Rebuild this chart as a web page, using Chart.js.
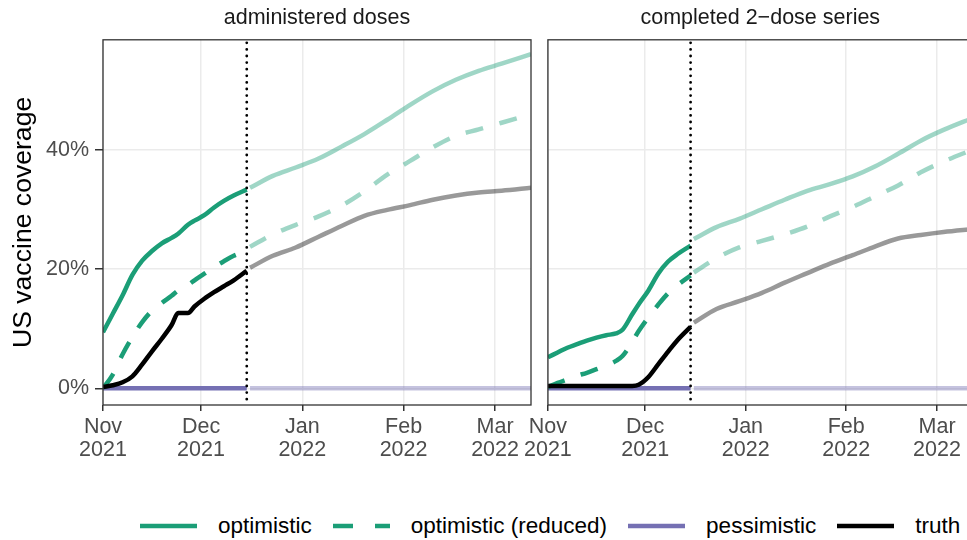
<!DOCTYPE html>
<html>
<head>
<meta charset="utf-8">
<script src="https://cdn.jsdelivr.net/npm/chart.js@4.4.1/dist/chart.umd.min.js"></script>
<style>
  html, body { margin: 0; padding: 0; background: #fff; overflow: hidden; }
  body { width: 967px; height: 540px; position: relative; font-family: "Liberation Sans", Arial, sans-serif; }
  #left { position: absolute; left: 0; top: 0; }
  #right { position: absolute; left: 520px; top: 0; }
  .legend { position: absolute; left: 140px; top: 513px; height: 26px; line-height: 26px;
            display: flex; align-items: center; font-size: 22.5px; color: #000; white-space: nowrap; }
  .legend svg { display: block; margin-right: 21px; }
  .legend span { margin-right: 21px; }
</style>
</head>
<body>
<canvas id="left" width="545" height="470"></canvas>
<canvas id="right" width="470" height="470"></canvas>
<div class="legend" id="legend"></div>
<script>
// x values are days since 1 Nov 2021
const obsDays  = [0, 3, 6, 9, 12, 15, 18, 21, 23, 26, 28, 31, 34, 37, 40, 44];
const projDays = [45, 52, 59, 66, 73, 80, 87, 94, 101, 108, 115, 122, 131];
const cutoffDay = 44;   // 15 Dec 2021, last observed day (dotted line)

const monthTickDays   = [0, 30, 61, 92, 120];
const monthTickLabels = [['Nov', '2021'], ['Dec', '2021'], ['Jan', '2022'], ['Feb', '2022'], ['Mar', '2022']];
const yTickValues     = [0, 20, 40];

const panelTitles  = ['administered doses', 'completed 2\u2212dose series'];
const legendLabels = ['optimistic', 'optimistic (reduced)', 'pessimistic', 'truth'];

// administered doses (% coverage)
const adminOptObs    = [9.4, 12.5, 15.6, 19.0, 21.4, 23.0, 24.3, 25.2, 25.9, 27.4, 28.1, 29.0, 30.3, 31.4, 32.3, 33.3];
const adminOptProj   = [33.6, 35.6, 37.0, 38.5, 40.5, 42.6, 45.0, 47.5, 49.8, 51.7, 53.2, 54.4, 56.0];
const adminRedObs    = [0, 2.3, 5.7, 8.6, 11.1, 13.0, 14.3, 15.5, 16.4, 17.3, 18.1, 19.2, 20.3, 21.3, 22.2, 23.0];
const adminRedProj   = [23.7, 25.8, 27.4, 28.8, 30.6, 33.0, 35.8, 38.1, 40.4, 42.3, 43.4, 44.5, 45.9];
const adminPessObs   = [0, 0, 0, 0, 0, 0, 0, 0, 0, 0, 0, 0, 0, 0, 0, 0];
const adminPessProj  = [0, 0, 0, 0, 0, 0, 0, 0, 0, 0, 0, 0, 0];
const adminTruthObs  = [0.2, 0.5, 1.0, 2.0, 4.0, 6.2, 8.3, 10.6, 12.6, 12.6, 13.7, 15.0, 16.1, 17.1, 18.1, 19.7];
const adminTruthProj = [20.2, 22.2, 23.6, 25.4, 27.2, 28.9, 29.9, 30.7, 31.6, 32.3, 32.8, 33.1, 33.6];

// completed 2-dose series (% coverage)
const doneOptObs    = [5.2, 6.0, 6.8, 7.4, 8.0, 8.5, 8.9, 9.2, 9.8, 12.4, 14.1, 16.4, 19.2, 21.2, 22.5, 23.9];
const doneOptProj   = [25.0, 27.0, 28.4, 30.0, 31.6, 33.1, 34.2, 35.5, 37.2, 39.3, 41.5, 43.3, 45.3];
const doneRedObs    = [0.2, 0.9, 1.5, 2.1, 2.6, 3.2, 3.8, 4.6, 5.4, 7.8, 9.6, 11.9, 14.0, 15.9, 17.3, 18.9];
const doneRedProj   = [19.4, 21.8, 23.6, 24.7, 25.8, 27.1, 28.8, 30.4, 32.2, 34.0, 36.2, 38.0, 40.0];
const donePessObs   = [0, 0, 0, 0, 0, 0, 0, 0, 0, 0, 0, 0, 0, 0, 0, 0];
const donePessProj  = [0, 0, 0, 0, 0, 0, 0, 0, 0, 0, 0, 0, 0];
const doneTruthObs  = [0.4, 0.4, 0.4, 0.4, 0.4, 0.4, 0.4, 0.4, 0.4, 0.4, 0.6, 1.9, 4.0, 6.1, 8.1, 10.3];
const doneTruthProj = [11.0, 13.3, 14.6, 16.0, 17.7, 19.3, 20.9, 22.3, 23.8, 25.1, 25.7, 26.2, 26.7];

const FONT = '"Liberation Sans", Arial, sans-serif';
const GREEN = '#1B9E77', GREEN_LIGHT = 'rgba(27,158,119,0.42)';
const PURPLE = '#7570B3', PURPLE_LIGHT = 'rgba(117,112,179,0.42)';
const BLACK = '#000000', GRAY = 'rgba(0,0,0,0.4)';
const DASH = [18, 17];
const LW = 4.5;

function pts(days, vals) {
  return days.map((d, i) => ({ x: d, y: vals[i] }));
}

function line(data, color, dashed, order) {
  return {
    data, order,
    borderColor: color, borderWidth: LW,
    borderDash: dashed ? DASH : [],
    borderCapStyle: 'butt', borderJoinStyle: 'round',
    pointRadius: 0, fill: false,
    cubicInterpolationMode: 'monotone'
  };
}

// panel border + dotted "today" line
const panelFrame = {
  id: 'panelFrame',
  afterDatasetsDraw(chart) {
    const { ctx, chartArea: a, scales: { x } } = chart;
    const cx = x.getPixelForValue(cutoffDay);
    ctx.save();
    ctx.setLineDash([0, 6.6]);
    ctx.lineCap = 'round';
    ctx.lineWidth = 2.8;
    ctx.strokeStyle = '#000';
    ctx.beginPath();
    ctx.moveTo(cx, a.top + 3);
    ctx.lineTo(cx, a.bottom);
    ctx.stroke();
    ctx.restore();

    ctx.save();
    ctx.strokeStyle = '#333333';
    ctx.lineWidth = 1.3;
    ctx.strokeRect(a.left, a.top, a.right - a.left, a.bottom - a.top);
    ctx.restore();
  }
};

function makePanel(id, title, s, showY, yWidth, padRight) {
  const datasets = [
    line(pts(obsDays, s.pessObs), PURPLE, false, 4),
    line(pts(projDays, s.pessProj), PURPLE_LIGHT, false, 4),
    line(pts(obsDays, s.optObs), GREEN, false, 3),
    line(pts(projDays, s.optProj), GREEN_LIGHT, false, 3),
    line(pts(obsDays, s.redObs), GREEN, true, 2),
    line(pts(projDays, s.redProj), GREEN_LIGHT, true, 2),
    line(pts(obsDays, s.truthObs), BLACK, false, 1),
    line(pts(projDays, s.truthProj), GRAY, false, 1)
  ];

  return new Chart(document.getElementById(id), {
    type: 'line',
    data: { datasets },
    options: {
      responsive: false,
      animation: false,
      devicePixelRatio: 1,
      events: [],
      layout: { padding: { left: 0, right: padRight, top: 0, bottom: 0 } },
      plugins: {
        legend: { display: false },
        tooltip: { enabled: false },
        title: {
          display: true, text: title, fullSize: false,
          color: '#1A1A1A',
          font: { family: FONT, size: 21.5, weight: 'normal' },
          padding: { top: 5, bottom: 9 }
        }
      },
      scales: {
        x: {
          type: 'linear', min: 0, max: 131,
          afterBuildTicks: sc => { sc.ticks = monthTickDays.map(v => ({ value: v })); },
          afterFit: sc => { sc.height = 65; },
          ticks: {
            callback: (v, i) => monthTickLabels[i],
            color: '#4D4D4D',
            font: { family: FONT, size: 21.5, lineHeight: 1.08 },
            padding: 4, maxRotation: 0, autoSkip: false
          },
          grid: { color: '#EBEBEB', lineWidth: 1.5, tickLength: 6, tickColor: '#333333', tickWidth: 1.5 },
          border: { display: false }
        },
        y: {
          type: 'linear', min: -2.8, max: 58.4,
          afterBuildTicks: sc => { sc.ticks = yTickValues.map(v => ({ value: v })); },
          afterFit: sc => { sc.width = yWidth; },
          ticks: {
            display: showY,
            callback: v => v + '%',
            color: '#4D4D4D',
            font: { family: FONT, size: 21.5 },
            padding: 6
          },
          grid: { color: '#EBEBEB', lineWidth: 1.5, drawTicks: showY, tickLength: 8, tickColor: '#333333', tickWidth: 1.5 },
          border: { display: false },
          title: {
            display: showY, text: 'US vaccine coverage', color: '#000',
            font: { family: FONT, size: 26.6 },
            padding: { top: 8, bottom: 0 }
          }
        }
      }
    },
    plugins: [panelFrame]
  });
}

makePanel('left', panelTitles[0], {
  optObs: adminOptObs, optProj: adminOptProj,
  redObs: adminRedObs, redProj: adminRedProj,
  pessObs: adminPessObs, pessProj: adminPessProj,
  truthObs: adminTruthObs, truthProj: adminTruthProj
}, true, 103, 14);

makePanel('right', panelTitles[1], {
  optObs: doneOptObs, optProj: doneOptProj,
  redObs: doneRedObs, redProj: doneRedProj,
  pessObs: donePessObs, pessProj: donePessProj,
  truthObs: doneTruthObs, truthProj: doneTruthProj
}, false, 24.3, 17.3);

// legend keys
const legendKeys = [
  { color: GREEN, dash: '' },
  { color: GREEN, dash: '20 22' },
  { color: PURPLE, dash: '' },
  { color: BLACK, dash: '' }
];
const legend = document.getElementById('legend');
legendLabels.forEach((label, i) => {
  const k = legendKeys[i];
  legend.insertAdjacentHTML('beforeend',
    '<svg width="57" height="10"><line x1="0" y1="5" x2="57" y2="5" stroke="' + k.color +
    '" stroke-width="4.7"' + (k.dash ? ' stroke-dasharray="' + k.dash + '"' : '') + '/></svg>' +
    '<span>' + label + '</span>');
});
</script>
</body>
</html>
